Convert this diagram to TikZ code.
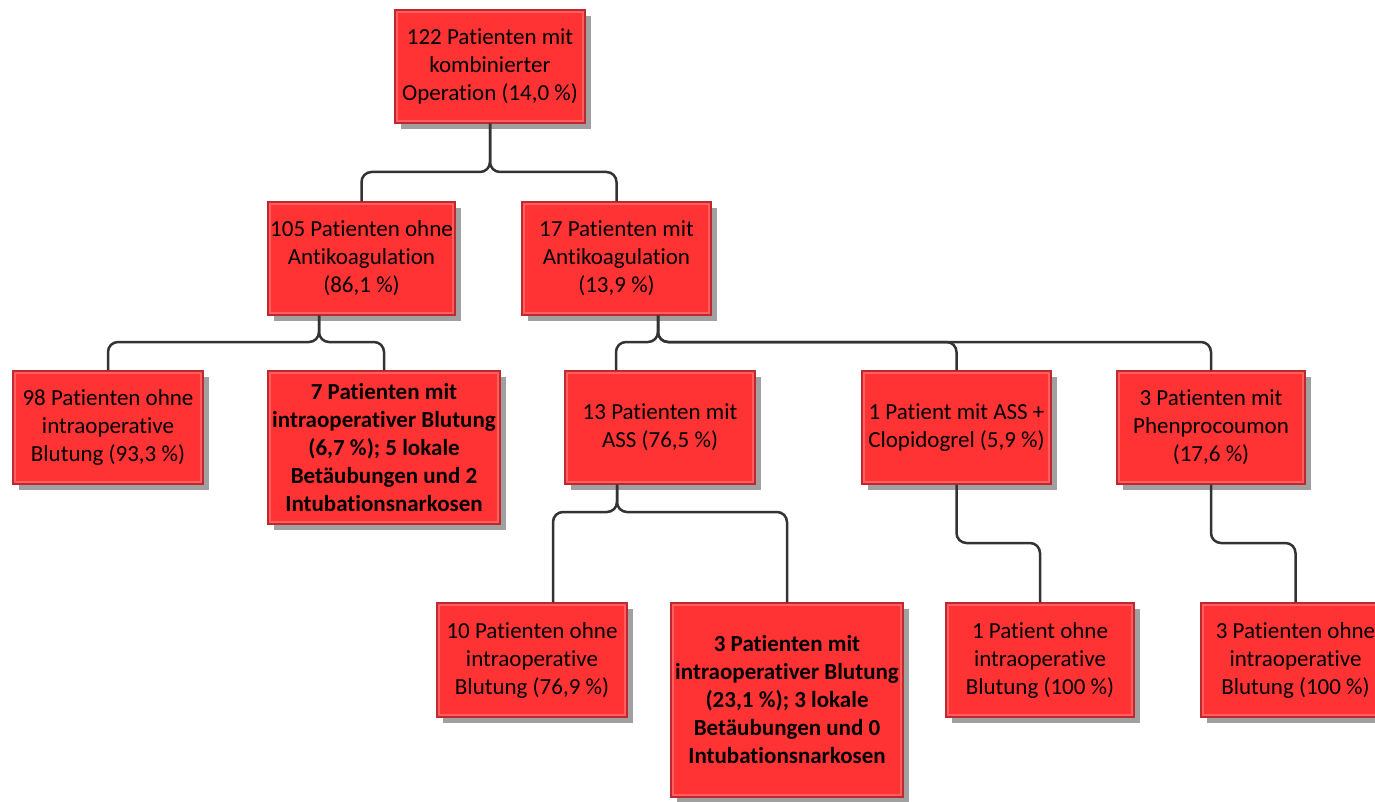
\documentclass[tikz,border=0pt]{standalone}
\usepackage{fontspec}
\setmainfont{Carlito}[Ligatures={NoCommon}]
\usetikzlibrary{shadows,calc}
\definecolor{boxred}{RGB}{255,51,51}
\definecolor{boxedge}{RGB}{192,40,45}
\definecolor{boxrim}{RGB}{255,95,95}
\definecolor{shadowgray}{RGB}{160,160,160}
\definecolor{linegray}{RGB}{51,51,51}
\tikzset{
  box/.style={draw=boxedge, line width=1.2pt, fill=boxred,
    general shadow={fill=shadowgray, shadow xshift=6pt, shadow yshift=-6pt},
    path picture={\draw[boxrim, line width=6pt] (path picture bounding box.south west) rectangle (path picture bounding box.north east);},
    align=center, inner sep=0pt, minimum width=190pt, minimum height=113pt,
    font=\fontsize{23}{28}\selectfont},
  boldbox/.style={box, font=\fontsize{23}{28}\selectfont\bfseries, minimum width=232pt},
  conn/.style={draw=linegray, line width=2.5pt, rounded corners=10pt}
}
\begin{document}
\begin{tikzpicture}[x=1pt,y=-1pt]
\clip (0,0) rectangle (1375,802);
\fill[white] (0,0) rectangle (1375,802);
\node[box] (n1) at (490,66.5) {122 Patienten mit\\kombinierter\\Operation (14,0 \%)};
\node[box, minimum width=187pt] (n2) at (361.5,258.5) {105 Patienten ohne\\Antikoagulation\\(86,1 \%)};
\node[box, minimum width=189pt] (n3) at (616.5,258.5) {17 Patienten mit\\Antikoagulation\\(13,9 \%)};
\node[box] (n4) at (108,427.5) {98 Patienten ohne\\intraoperative\\Blutung (93,3 \%)};
\node[boldbox, minimum height=153pt] (n5) at (384,447.5) {7 Patienten mit\\intraoperativer Blutung\\(6,7 \%); 5 lokale\\Betäubungen und 2\\Intubationsnarkosen};
\node[box] (n6) at (660,427.5) {13 Patienten mit\\ASS (76,5 \%)};
\node[box, minimum width=189pt] (n7) at (956.5,427.5) {1 Patient mit ASS +\\Clopidogrel (5,9 \%)};
\node[box, minimum width=188pt] (n8) at (1211,427.5) {3 Patienten mit\\Phenprocoumon\\(17,6 \%)};
\node[box, minimum height=114pt] (n9) at (532,660) {10 Patienten ohne\\intraoperative\\Blutung (76,9 \%)};
\node[boldbox, minimum height=194pt] (n10) at (787,700) {3 Patienten mit\\intraoperativer Blutung\\(23,1 \%); 3 lokale\\Betäubungen und 0\\Intubationsnarkosen};
\node[box, minimum width=188pt, minimum height=114pt] (n11) at (1040,660) {1 Patient ohne\\intraoperative\\Blutung (100 \%)};
\node[box, minimum width=189pt, minimum height=114pt] (n12) at (1295.5,660) {3 Patienten ohne\\intraoperative\\Blutung (100 \%)};
% exit / entry points
\coordinate (e2) at ([xshift=-42.5pt]n2.south);
\coordinate (e3) at ([xshift=41.5pt]n3.south);
\coordinate (i6) at ([xshift=-44pt]n6.north);
\coordinate (e6) at ([xshift=-43pt]n6.south);
\coordinate (i9) at ([xshift=21pt]n9.north);
% level 1
\draw[conn] (n1.south) -- (n1.south |- 0,172) -- (n2.north |- 0,172) -- (n2.north);
\draw[conn] (n1.south) -- (n1.south |- 0,172) -- (n3.north |- 0,172) -- (n3.north);
% level 2 left
\draw[conn] (e2) -- (e2 |- 0,342) -- (n4.north |- 0,342) -- (n4.north);
\draw[conn] (e2) -- (e2 |- 0,342) -- (n5.north |- 0,342) -- (n5.north);
% level 2 right
\draw[conn] (e3) -- (e3 |- 0,342) -- (i6 |- 0,342) -- (i6);
\draw[conn] (e3) -- (e3 |- 0,342) -- (n7.north |- 0,342) -- (n7.north);
\draw[conn] (e3) -- (e3 |- 0,342) -- (n8.north |- 0,342) -- (n8.north);
% level 3
\draw[conn] (e6) -- (e6 |- 0,512) -- (i9 |- 0,512) -- (i9);
\draw[conn] (e6) -- (e6 |- 0,512) -- (n10.north |- 0,512) -- (n10.north);
\draw[conn] (n7.south) -- (n7.south |- 0,543) -- (n11.north |- 0,543) -- (n11.north);
\draw[conn] (n8.south) -- (n8.south |- 0,543) -- (n12.north |- 0,543) -- (n12.north);
\end{tikzpicture}
\end{document}
